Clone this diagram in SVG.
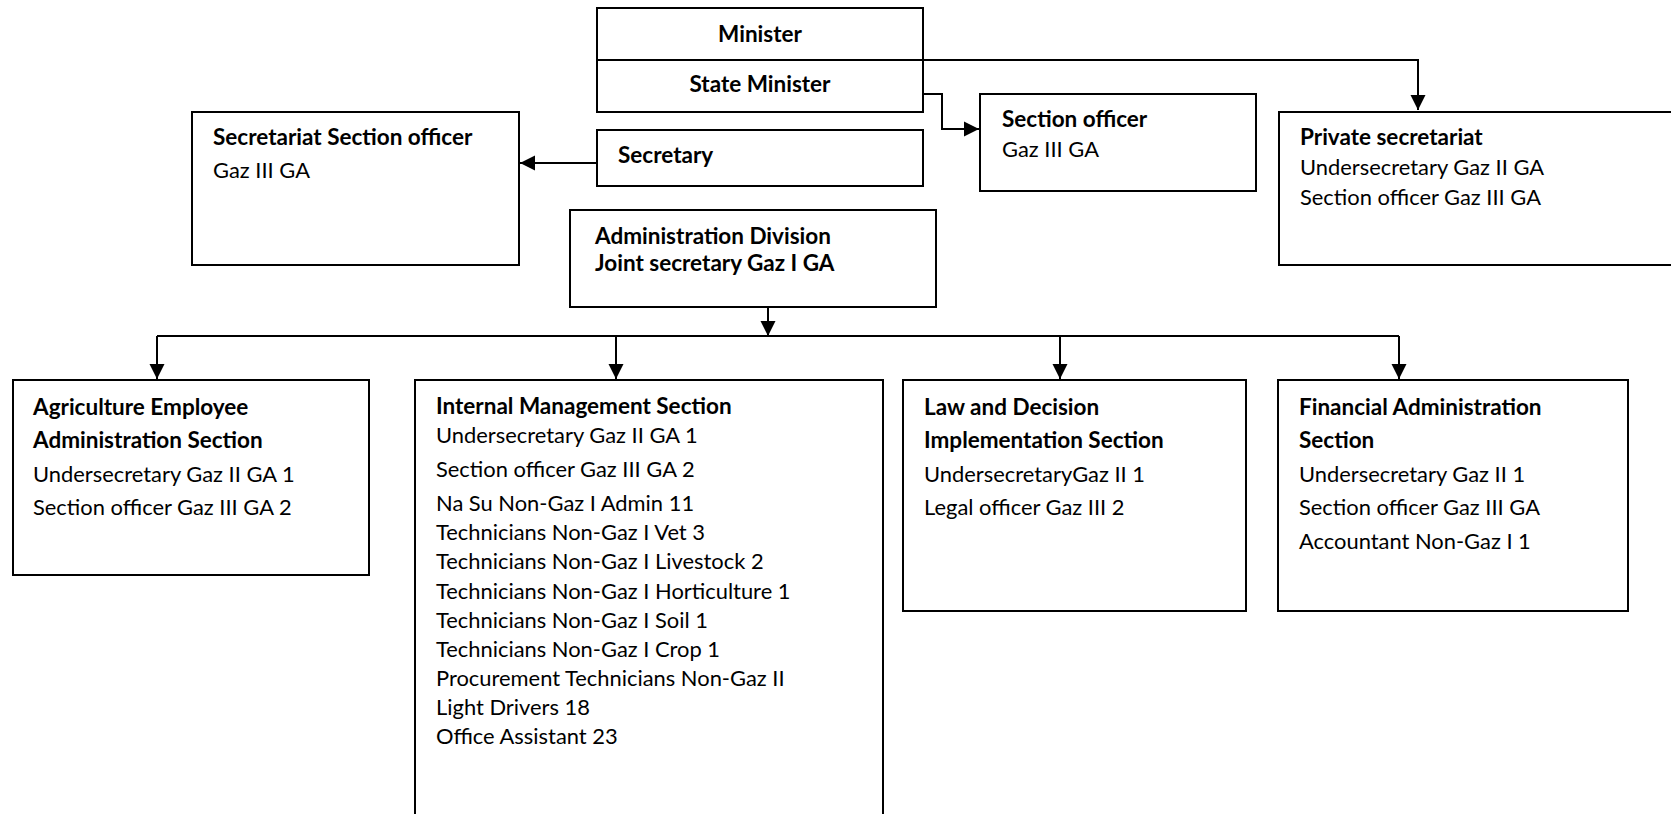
<svg xmlns="http://www.w3.org/2000/svg" width="1671" height="814" viewBox="0 0 1671 814">
  <style>
    .box { fill: #ffffff; stroke: #000000; stroke-width: 2; }
    .wire { fill: none; stroke: #000000; stroke-width: 2; }
    text { font-family: Lato, "Liberation Sans", sans-serif; font-size: 21.9px; fill: #000000; }
    .b { font-weight: bold; font-size: 22.5px; }
    .c { text-anchor: middle; }
  </style>
  <defs>
    <marker id="arrow" markerUnits="userSpaceOnUse" markerWidth="16" markerHeight="16" viewBox="0 0 16 16" refX="15" refY="8" orient="auto">
      <path d="M0,0.5 L15,8 L0,15.5 Z" fill="#000000"/>
    </marker>
  </defs>

  <rect width="1671" height="814" fill="#ffffff"/>

  <!-- connectors -->
  <g id="connectors">
    <path class="wire" d="M923,60 H1418 V110" marker-end="url(#arrow)"/>
    <path class="wire" d="M903,94 H942 V129 H979" marker-end="url(#arrow)"/>
    <path class="wire" d="M597,163 H520" marker-end="url(#arrow)"/>
    <path class="wire" d="M768,307 V335"/>
    <path d="M760.5,321 L768,336 L775.5,321 Z" fill="#000000"/>
    <path class="wire" d="M157,336 H1399"/>
    <path class="wire" d="M157,336 V379" marker-end="url(#arrow)"/>
    <path class="wire" d="M616,336 V379" marker-end="url(#arrow)"/>
    <path class="wire" d="M1060,336 V379" marker-end="url(#arrow)"/>
    <path class="wire" d="M1399,336 V379" marker-end="url(#arrow)"/>
  </g>

  <!-- Minister / State Minister -->
  <g id="minister">
    <rect class="box" x="597" y="8" width="326" height="104"/>
    <line class="wire" x1="597" y1="60" x2="923" y2="60"/>
    <text class="b c" x="760" y="42">Minister</text>
    <text class="b c" x="760" y="92">State Minister</text>
  </g>

  <g id="secretary">
    <rect class="box" x="597" y="130" width="326" height="56"/>
    <text class="b" x="618" y="163">Secretary</text>
  </g>

  <g id="secretariat-section-officer">
    <rect class="box" x="192" y="112" width="327" height="153"/>
    <text class="b" x="213" y="145">Secretariat Section officer</text>
    <text x="213" y="178">Gaz III GA</text>
  </g>

  <g id="section-officer">
    <rect class="box" x="980" y="94" width="276" height="97"/>
    <text class="b" x="1002" y="127">Section officer</text>
    <text x="1002" y="157">Gaz III GA</text>
  </g>

  <g id="private-secretariat">
    <path class="box" d="M1680,112 H1279 V265 H1680"/>
    <text class="b" x="1300" y="145">Private secretariat</text>
    <text x="1300" y="175">Undersecretary Gaz II GA</text>
    <text x="1300" y="205">Section officer Gaz III GA</text>
  </g>

  <g id="administration-division">
    <rect class="box" x="570" y="210" width="366" height="97"/>
    <text class="b" x="595" y="244">Administration Division</text>
    <text class="b" x="595" y="271">Joint secretary Gaz I GA</text>
  </g>

  <g id="agriculture-employee-administration">
    <rect class="box" x="13" y="380" width="356" height="195"/>
    <text class="b" x="33" y="415">Agriculture Employee</text>
    <text class="b" x="33" y="448">Administration Section</text>
    <text x="33" y="482">Undersecretary Gaz II GA 1</text>
    <text x="33" y="515">Section officer Gaz III GA 2</text>
  </g>

  <g id="internal-management">
    <path class="box" d="M415,830 V380 H883 V830"/>
    <text class="b" x="436" y="414">Internal Management Section</text>
    <text x="436" y="443">Undersecretary Gaz II GA 1</text>
    <text x="436" y="477">Section officer Gaz III GA 2</text>
    <text x="436" y="511">Na Su Non-Gaz I Admin 11</text>
    <text x="436" y="540">Technicians Non-Gaz I Vet 3</text>
    <text x="436" y="569">Technicians Non-Gaz I Livestock 2</text>
    <text x="436" y="599">Technicians Non-Gaz I Horticulture 1</text>
    <text x="436" y="628">Technicians Non-Gaz I Soil 1</text>
    <text x="436" y="657">Technicians Non-Gaz I Crop 1</text>
    <text x="436" y="686">Procurement Technicians Non-Gaz II</text>
    <text x="436" y="715">Light Drivers 18</text>
    <text x="436" y="744">Office Assistant 23</text>
  </g>

  <g id="law-decision-implementation">
    <rect class="box" x="903" y="380" width="343" height="231"/>
    <text class="b" x="924" y="415">Law and Decision</text>
    <text class="b" x="924" y="448">Implementation Section</text>
    <text x="924" y="482">UndersecretaryGaz II 1</text>
    <text x="924" y="515">Legal officer Gaz III 2</text>
  </g>

  <g id="financial-administration">
    <rect class="box" x="1278" y="380" width="350" height="231"/>
    <text class="b" x="1299" y="415">Financial Administration</text>
    <text class="b" x="1299" y="448">Section</text>
    <text x="1299" y="482">Undersecretary Gaz II 1</text>
    <text x="1299" y="515">Section officer Gaz III GA</text>
    <text x="1299" y="549">Accountant Non-Gaz I 1</text>
  </g>
</svg>
